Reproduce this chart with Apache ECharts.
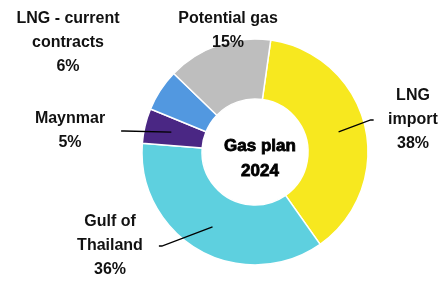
<!DOCTYPE html>
<html>
<head>
<meta charset="utf-8">
<script src="https://cdn.jsdelivr.net/npm/echarts@6/dist/echarts.min.js"></script>
<style>
  html, body { margin: 0; padding: 0; background: #fff; }
  #chart { width: 445px; height: 286px; }
</style>
</head>
<body>
<div id="chart"></div>
<script>
// gas supply mix, share in %
const categories = ['LNG\nimport', 'Gulf of\nThailand', 'Maynmar', 'LNG - current\ncontracts', 'Potential gas']
const shares = [38, 36, 5, 6, 15]
const withLine = [true, true, true, false, false]
const centerTitle = 'Gas plan\n2024'

const colors = ['#f7e81f', '#5ed0df', '#4a2784', '#5298e0', '#bebebe']
// where each label block sits (center of the text block)
const labelSpots = [[413, 120], [110, 246], [70, 131], [68, 43], [228, 31]]

const font = '"Liberation Sans", Arial, sans-serif'
const center = [255, 152]

const chart = echarts.init(document.getElementById('chart'))
chart.setOption({
  animation: false,
  color: colors,
  title: {
    text: centerTitle,
    left: center[0],
    top: 129,
    textAlign: 'center',
    textStyle: {
      fontFamily: font,
      fontSize: 17,
      fontWeight: 'bold',
      lineHeight: 25,
      color: '#000',
      textBorderColor: '#000',
      textBorderWidth: 0.8
    }
  },
  series: [
    {
      // the ring itself
      type: 'pie',
      center: center,
      radius: [53, 113],
      startAngle: 82,
      clockwise: true,
      silent: true,
      label: { show: false },
      labelLine: { show: false },
      itemStyle: { borderColor: '#fff', borderWidth: 1.5 },
      data: categories.map((c, i) => ({ name: c, value: shares[i] }))
    },
    {
      // invisible pie up to mid ring, so the leader lines start inside the ring
      type: 'pie',
      z: 5,
      center: center,
      radius: [0, 86],
      startAngle: 82,
      clockwise: true,
      silent: true,
      itemStyle: { color: 'rgba(0,0,0,0)' },
      label: {
        show: true,
        position: 'outside',
        formatter: '{b}\n{c}%',
        fontFamily: font,
        fontSize: 16,
        fontWeight: 'bold',
        lineHeight: 24,
        color: '#111',
        align: 'center',
        overflow: 'none',
        padding: [0, 16]
      },
      labelLine: {
        show: true,
        length: 10,
        length2: 3,
        lineStyle: { color: '#000', width: 1.3 }
      },
      labelLayout: function (p) {
        const s = labelSpots[p.dataIndex]
        return { x: s[0], y: s[1], align: 'center', verticalAlign: 'middle' }
      },
      data: categories.map((c, i) => ({
        name: c,
        value: shares[i],
        labelLine: { show: withLine[i] }
      }))
    }
  ]
})
</script>
</body>
</html>
